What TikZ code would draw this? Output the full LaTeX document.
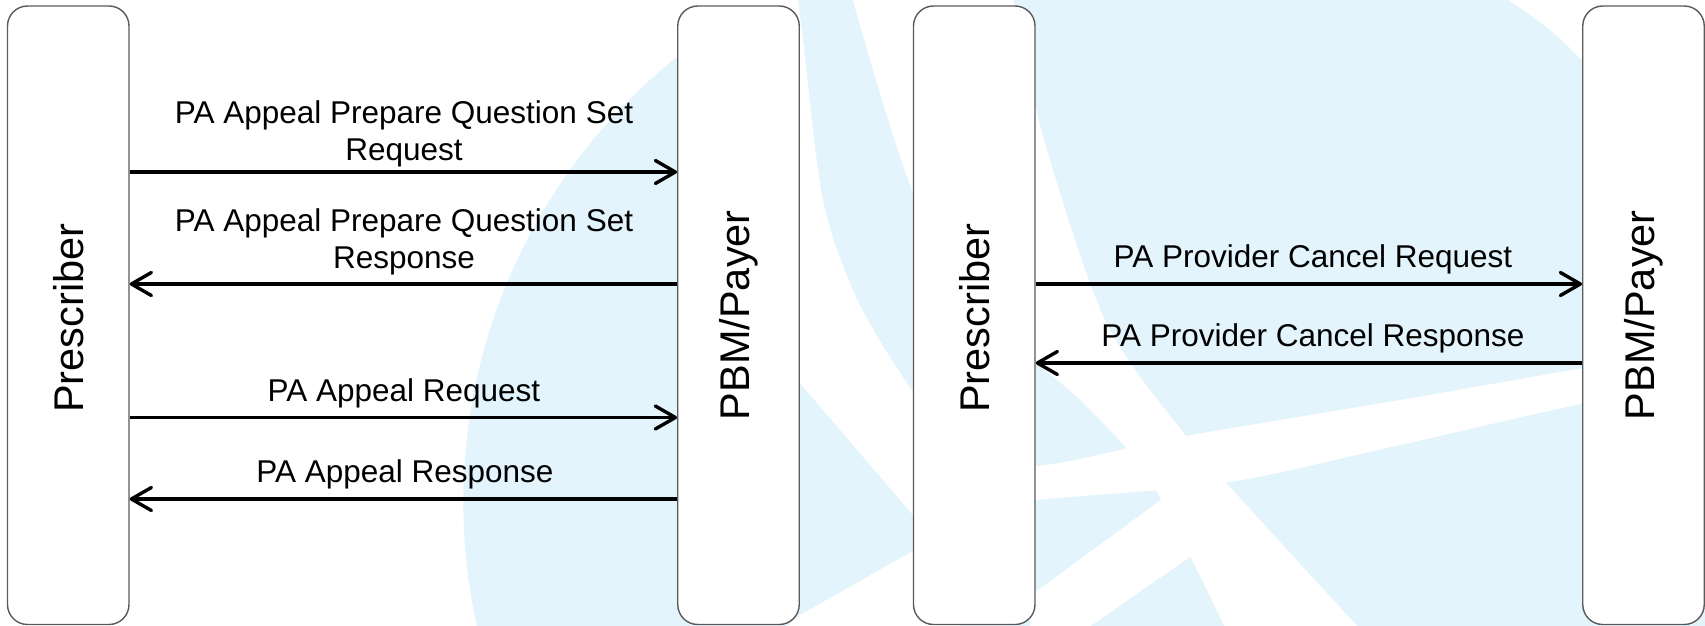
\documentclass[tikz,border=0pt]{standalone}
\usepackage{fontspec}
\setmainfont{Liberation Sans}
\usetikzlibrary{arrows.meta}
\definecolor{wmblue}{RGB}{227,244,252}
\definecolor{boxgray}{RGB}{90,90,90}
\begin{document}
\begin{tikzpicture}[x=1pt,y=-1pt,
  lane/.style={draw=boxgray, line width=1.4pt, fill=white, rounded corners=20pt,
    minimum width=121.5pt, minimum height=618.5pt, inner sep=0pt},
  vlabel/.style={rotate=90, font=\fontsize{41.5}{48}\selectfont, inner sep=0pt},
  lbl/.style={font=\fontsize{31.5}{37}\selectfont, align=center, inner sep=0pt, anchor=base},
  msg/.style={line width=3.4pt, -{Straight Barb[length=20pt,width=23pt,round]}},
]
\useasboundingbox (0,0) rectangle (1705,626);
\fill[white] (0,0) rectangle (1705,626);
% watermark
\begin{scope}
\clip (0,0) rectangle (1705,626);
\fill[wmblue] (1034.6,502.3) circle[radius=571.2];
\fill[wmblue] (1034.6,-10) rectangle (1715,640);
\fill[white] (1508,-10) -- (1508,0) .. controls (1540,20) and (1570,45) .. (1590,70) -- (1715,200) -- (1715,-10) -- cycle;
\fill[white] plot[smooth] coordinates {(850,-10) (913,192) (990,320) (1080,400) (1150,480) (1231,640)}
  -- plot[smooth] coordinates {(1370,640) (1260,520) (1186,436) (1105,320) (1042,133) (1030,60) (1010,-10)} -- cycle;
\fill[white] plot[smooth] coordinates {(797,-10) (803,40) (823,200) (857,299) (913,391) (970,445) (1035,466) (1186,436) (1400,400) (1600,365) (1715,345)}
  -- plot[smooth] coordinates {(1715,385) (1600,400) (1400,445) (1224,483) (1035,500) (913,515)}
  -- (800,383) -- (740,200) -- (700,-10) -- cycle;
\fill[white] (780,632) -- (800,615) -- (913,551) -- (960,530) -- (960,640) -- (780,640) -- cycle;
\fill[white] (1030,596) -- (1165,497) -- (1200,550) -- (1030,668) -- cycle;
\end{scope}
% lanes
\node[lane] (p1) at (68.25,315.25) {};
\node[lane] (b1) at (738.5,315.25) {};
\node[lane] (p2) at (974.25,315.25) {};
\node[lane] (b2) at (1643.5,315.25) {};
\node[vlabel] (tp1) at ([yshift=-3pt]p1.center) {Prescriber};
\node[vlabel] (tb1) at (b1.center) {PBM/Payer};
\node[vlabel] (tp2) at ([yshift=-3pt]p2.center) {Prescriber};
\node[vlabel] (tb2) at (b2.center) {PBM/Payer};
% message rows
\coordinate (y1) at (0,172);
\coordinate (y2) at (0,284);
\coordinate (y3) at (0,417.5);
\coordinate (y4) at (0,499);
\coordinate (y5) at (0,284);
\coordinate (y6) at (0,363);
\draw[msg] (p1.east |- y1) -- (b1.west |- y1);
\draw[msg] (b1.west |- y2) -- (p1.east |- y2);
\draw[msg] (p1.east |- y3) -- (b1.west |- y3);
\draw[msg] (b1.west |- y4) -- (p1.east |- y4);
\draw[msg] (p2.east |- y5) -- (b2.west |- y5);
\draw[msg] (b2.west |- y6) -- (p2.east |- y6);
% labels (base = baseline of last line)
\node[lbl] (l1) at (404,160) {PA Appeal Prepare Question Set\\Request};
\node[lbl] (l2) at (404,268) {PA Appeal Prepare Question Set\\Response};
\node[lbl] (l3) at (404,401) {PA Appeal Request};
\node[lbl] (l4) at (405,482) {PA Appeal Response};
\node[lbl] (l5) at (1313,267) {PA Provider Cancel Request};
\node[lbl] (l6) at (1313,346) {PA Provider Cancel Response};
\end{tikzpicture}
\end{document}
